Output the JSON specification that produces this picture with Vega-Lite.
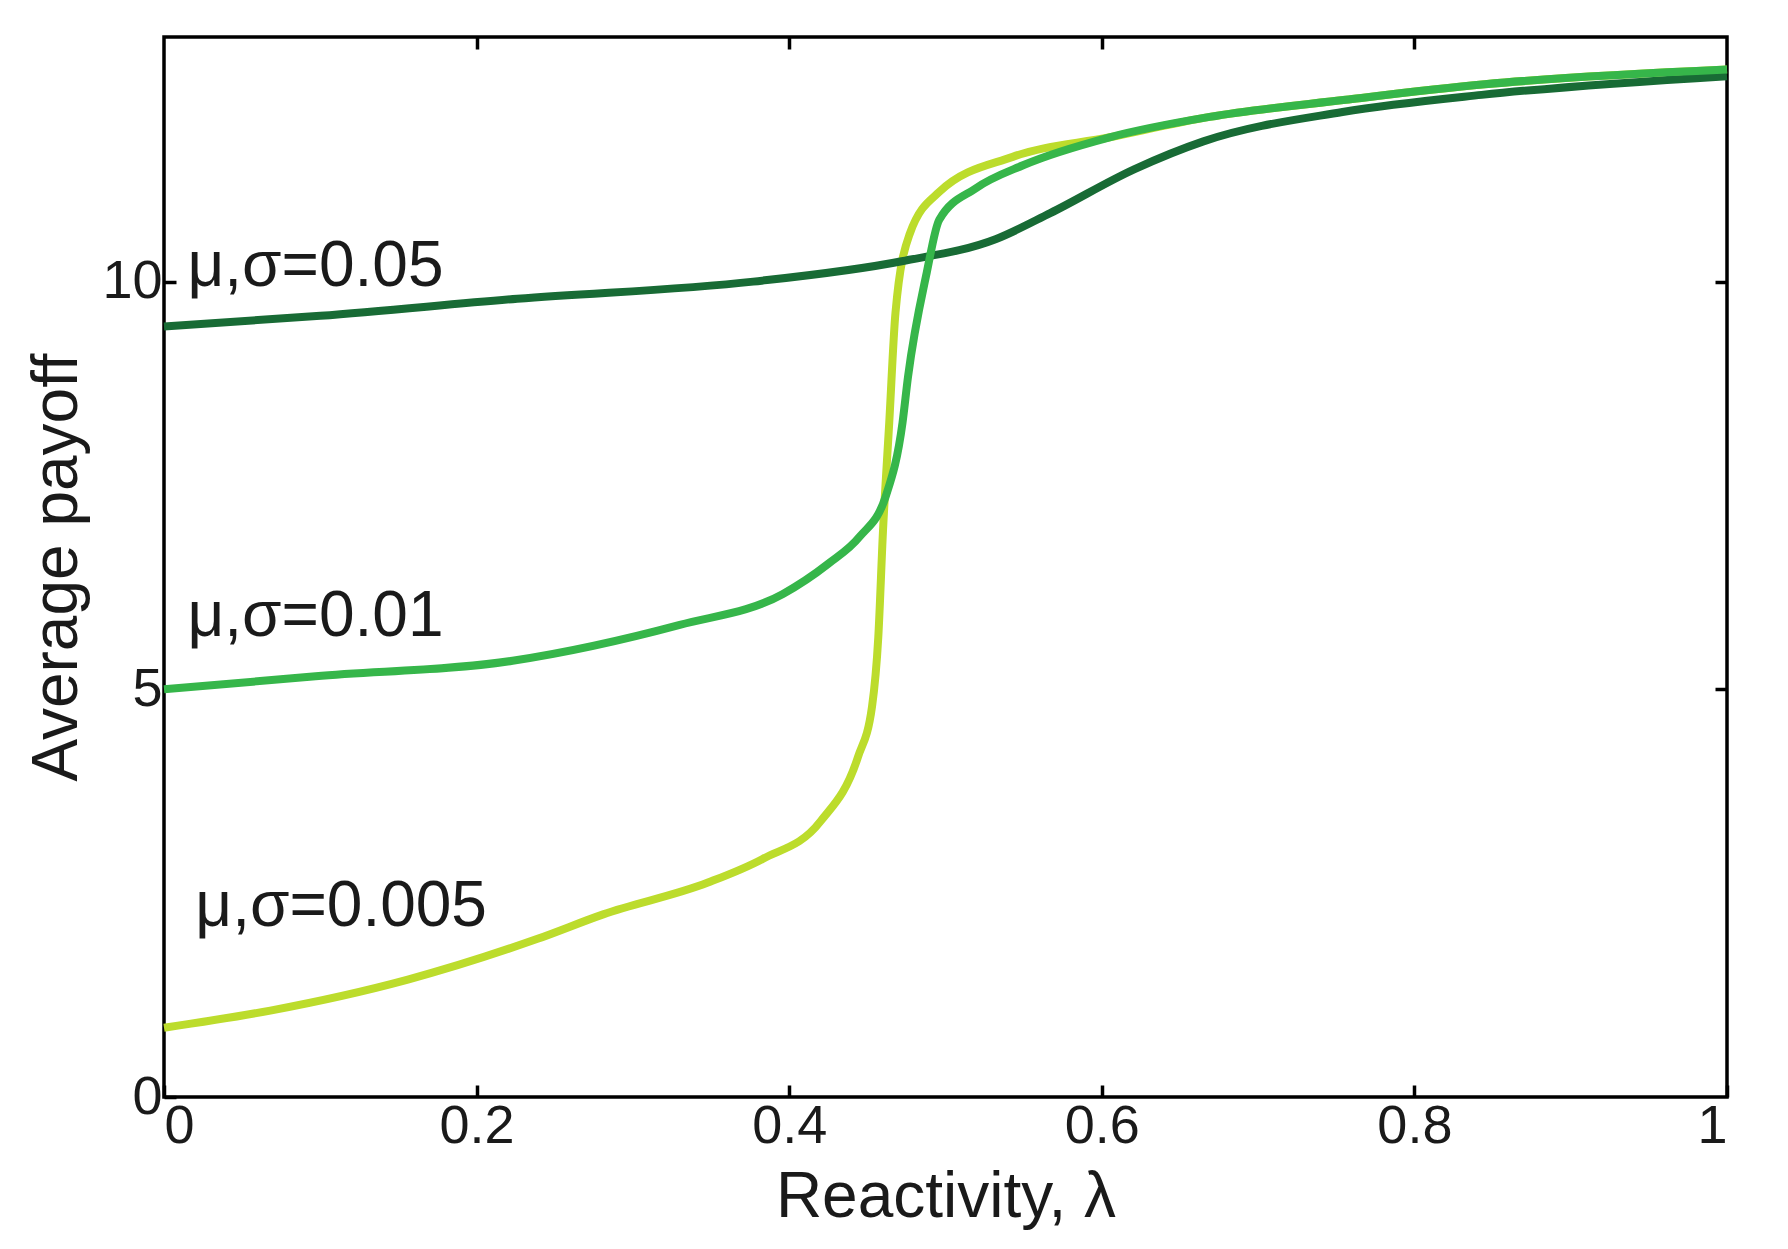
{
  "$schema": "https://vega.github.io/schema/vega-lite/v6.json",
  "width": 1788,
  "height": 1249,
  "autosize": {"type": "fit", "contains": "padding"},
  "padding": {"left": 25, "top": 35, "right": 45, "bottom": 20},
  "background": "white",
  "config": {
    "font": "Liberation Sans",
    "view": {"stroke": "black", "strokeWidth": 3.5},
    "axis": {
      "domain": false,
      "grid": false,
      "tickSize": -12,
      "tickWidth": 3.5,
      "tickColor": "black",
      "labelFont": "Liberation Sans",
      "titleFont": "Liberation Sans",
      "labelFontSize": 54,
      "labelColor": "#1a1a1a",
      "titleFontSize": 64,
      "titleFontWeight": "normal",
      "titleColor": "#1a1a1a",
      "labelPadding": 14,
      "titlePadding": 12
    }
  },
  "datasets": {
    "curves": [
      {"s": "light", "x": 0, "y": 0.85},
      {"s": "light", "x": 0.068, "y": 1.06},
      {"s": "light", "x": 0.156, "y": 1.44},
      {"s": "light", "x": 0.239, "y": 1.94},
      {"s": "light", "x": 0.281, "y": 2.24},
      {"s": "light", "x": 0.348, "y": 2.63},
      {"s": "light", "x": 0.383, "y": 2.92},
      {"s": "light", "x": 0.42, "y": 3.38},
      {"s": "light", "x": 0.444, "y": 4.17},
      {"s": "light", "x": 0.453, "y": 4.79},
      {"s": "light", "x": 0.457, "y": 5.64},
      {"s": "light", "x": 0.46, "y": 6.94},
      {"s": "light", "x": 0.464, "y": 8.27},
      {"s": "light", "x": 0.468, "y": 9.62},
      {"s": "light", "x": 0.477, "y": 10.58},
      {"s": "light", "x": 0.496, "y": 11.1},
      {"s": "light", "x": 0.543, "y": 11.53},
      {"s": "light", "x": 0.605, "y": 11.77},
      {"s": "light", "x": 0.669, "y": 12.02},
      {"s": "light", "x": 0.756, "y": 12.23},
      {"s": "light", "x": 0.845, "y": 12.42},
      {"s": "light", "x": 1.0, "y": 12.6},
      {"s": "dark", "x": 0, "y": 9.45},
      {"s": "dark", "x": 0.1, "y": 9.58},
      {"s": "dark", "x": 0.226, "y": 9.79},
      {"s": "dark", "x": 0.377, "y": 10.0},
      {"s": "dark", "x": 0.472, "y": 10.25},
      {"s": "dark", "x": 0.532, "y": 10.52},
      {"s": "dark", "x": 0.567, "y": 10.84},
      {"s": "dark", "x": 0.621, "y": 11.38},
      {"s": "dark", "x": 0.665, "y": 11.72},
      {"s": "dark", "x": 0.754, "y": 12.08},
      {"s": "dark", "x": 0.843, "y": 12.29},
      {"s": "dark", "x": 1.0, "y": 12.52},
      {"s": "medium", "x": 0, "y": 5.0},
      {"s": "medium", "x": 0.097, "y": 5.16},
      {"s": "medium", "x": 0.223, "y": 5.35},
      {"s": "medium", "x": 0.33, "y": 5.79},
      {"s": "medium", "x": 0.396, "y": 6.17},
      {"s": "medium", "x": 0.425, "y": 6.54},
      {"s": "medium", "x": 0.445, "y": 6.87},
      {"s": "medium", "x": 0.462, "y": 7.38},
      {"s": "medium", "x": 0.4725, "y": 8.27},
      {"s": "medium", "x": 0.476, "y": 8.83},
      {"s": "medium", "x": 0.488, "y": 10.11},
      {"s": "medium", "x": 0.496, "y": 10.76},
      {"s": "medium", "x": 0.519, "y": 11.14},
      {"s": "medium", "x": 0.55, "y": 11.43},
      {"s": "medium", "x": 0.605, "y": 11.77},
      {"s": "medium", "x": 0.669, "y": 12.02},
      {"s": "medium", "x": 0.756, "y": 12.23},
      {"s": "medium", "x": 0.845, "y": 12.42},
      {"s": "medium", "x": 1.0, "y": 12.6}
    ],
    "labels": [
      {"x": 0.015, "y": 9.95, "t": "μ,σ=0.05"},
      {"x": 0.015, "y": 5.65, "t": "μ,σ=0.01"},
      {"x": 0.02, "y": 2.1, "t": "μ,σ=0.005"}
    ]
  },
  "layer": [
    {
      "data": {"name": "curves"},
      "transform": [{"filter": "datum.s == 'light'"}],
      "mark": {"type": "line", "strokeWidth": 8, "interpolate": "monotone", "color": "#bcdc2c"},
      "encoding": {
        "x": {
          "field": "x", "type": "quantitative",
          "scale": {"domain": [0, 1], "nice": false},
          "axis": {
            "orient": "bottom",
            "title": "Reactivity, λ",
            "values": [0, 0.2, 0.4, 0.6, 0.8, 1],
            "labelExpr": "datum.value == 0 ? '0' : datum.value == 1 ? '1' : format(datum.value, '.1f')"
          }
        },
        "y": {
          "field": "y", "type": "quantitative",
          "scale": {"domain": [0, 13], "nice": false},
          "axis": {"orient": "left", "title": "Average payoff", "values": [0, 5, 10]}
        }
      }
    },
    {
      "data": {"name": "curves"},
      "transform": [{"filter": "datum.s == 'dark'"}],
      "mark": {"type": "line", "strokeWidth": 8, "interpolate": "monotone", "color": "#186b35"},
      "encoding": {
        "x": {"field": "x", "type": "quantitative", "axis": null},
        "y": {"field": "y", "type": "quantitative", "axis": null}
      }
    },
    {
      "data": {"name": "curves"},
      "transform": [{"filter": "datum.s == 'medium'"}],
      "mark": {"type": "line", "strokeWidth": 8, "interpolate": "monotone", "color": "#36b64a"},
      "encoding": {
        "x": {"field": "x", "type": "quantitative", "axis": null},
        "y": {"field": "y", "type": "quantitative", "axis": null}
      }
    },
    {
      "data": {"name": "labels"},
      "mark": {"type": "text", "align": "left", "baseline": "alphabetic", "fontSize": 64, "color": "#1a1a1a", "font": "Liberation Sans"},
      "encoding": {
        "x": {"field": "x", "type": "quantitative", "axis": null},
        "y": {"field": "y", "type": "quantitative", "axis": null},
        "text": {"field": "t"}
      }
    },
    {
      "data": {"name": "curves"},
      "mark": {"type": "line", "opacity": 0},
      "encoding": {
        "x": {
          "field": "x", "type": "quantitative",
          "axis": {"orient": "top", "labels": false, "title": null, "values": [0.2, 0.4, 0.6, 0.8]}
        },
        "y": {
          "field": "y", "type": "quantitative",
          "axis": {"orient": "right", "labels": false, "title": null, "values": [5, 10]}
        },
        "detail": {"field": "s"}
      }
    }
  ],
  "resolve": {"axis": {"x": "independent", "y": "independent"}}
}
